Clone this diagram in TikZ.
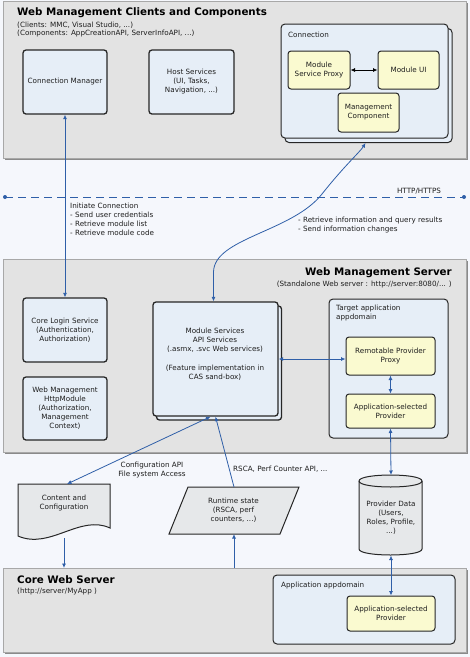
\documentclass[tikz,border=0pt]{standalone}
\usepackage{fontspec}
\setmainfont{DejaVu Sans}
\usetikzlibrary{arrows.meta,calc}
\definecolor{bgc}{HTML}{F5F7FC}
\definecolor{panelc}{HTML}{E3E3E3}
\definecolor{panelb}{HTML}{A8A8A8}
\definecolor{shadc}{HTML}{8A8A8A}
\definecolor{boxc}{HTML}{E6EEF7}
\definecolor{yelc}{HTML}{FAFAD0}
\definecolor{shapec}{HTML}{E6E8EA}
\definecolor{arrc}{HTML}{2F5FA8}
\definecolor{txtc}{HTML}{1E1E1E}
\begin{document}
\begin{tikzpicture}[x=1pt,y=-1pt,
  every node/.style={font=\fontsize{7.2}{9}\selectfont, text=txtc},
  panel/.style={fill=panelc, draw=panelb, line width=0.8pt, anchor=north west, inner sep=0pt},
  pshadow/.style={fill=shadc, draw=none, anchor=north west, inner sep=0pt},
  bbox/.style={draw=black!85, line width=1.3pt, fill=boxc, rounded corners=3pt, align=center, inner sep=1pt},
  ybox/.style={draw=black!85, line width=1pt, fill=yelc, rounded corners=3pt, align=center, inner sep=1pt},
  dom/.style={draw=black!85, line width=1pt, fill=boxc, rounded corners=4pt, inner sep=0pt},
  shp/.style={draw=black!85, line width=1pt, fill=shapec},
  conn/.style={draw=arrc, line width=0.8pt},
  tip/.style={-{Latex[length=4.5pt,width=4pt]}},
  tips/.style={{Latex[length=4.5pt,width=4pt]}-{Latex[length=4.5pt,width=4pt]}},
  ttl/.style={font=\fontsize{10.3}{12}\selectfont\bfseries, text=black, anchor=west, inner sep=0pt},
  sub/.style={anchor=west, inner sep=0pt},
  txt/.style={align=center, inner sep=0pt},
]
\useasboundingbox (0,0) rectangle (470,657);
\fill[bgc] (0,0) rectangle (470,657);

% ---------- panels ----------
\node[pshadow, minimum width=463pt, minimum height=157pt] at (4.5,2.5) {};
\node[panel, minimum width=463pt, minimum height=157pt] (p1) at (3,1) {};
\node[pshadow, minimum width=463pt, minimum height=193pt] at (4.5,260.5) {};
\node[panel, minimum width=463pt, minimum height=193pt] (p2) at (3,259) {};
\node[pshadow, minimum width=463pt, minimum height=84pt] at (4.5,569.5) {};
\node[panel, minimum width=463pt, minimum height=84pt] (p3) at (3,568) {};

% ---------- top panel ----------
\node[ttl] (t1) at (17,13) {Web Management Clients and Components};
\node[sub] (s1a) at (17,25) {(Clients: MMC, Visual Studio, ...)};
\node[sub] (s1b) at (17,33.5) {(Components: AppCreationAPI, ServerInfoAPI, ...)};

\node[bbox, minimum width=84pt, minimum height=64pt] (cm) at (65,82) {Connection Manager};
\node[bbox, minimum width=85pt, minimum height=64pt] (hs) at (191.5,82) {Host Services\\(UI, Tasks,\\Navigation, ...)};

\node[dom, minimum width=167pt, minimum height=114pt] (cbk) at (368.5,85.5) {};
\node[dom, minimum width=167pt, minimum height=114pt] (cx) at (364.5,81) {};
\node[sub] (cxl) at (288,35) {Connection};
\node[ybox, minimum width=62pt, minimum height=38pt] (msp) at (319,70) {Module\\Service Proxy};
\node[ybox, minimum width=61pt, minimum height=38pt] (mui) at (408.5,70) {Module UI};
\node[ybox, minimum width=61pt, minimum height=39pt] (mc) at (368.5,112.5) {Management\\Component};

% ---------- HTTP line ----------
\coordinate (dl) at (5,197);
\coordinate (dr) at (464,197);
\draw[conn, dash pattern=on 8pt off 5pt] (dl) -- (dr);
\fill[arrc] (dl) circle[radius=2pt];
\fill[arrc] (dr) circle[radius=2pt];
\node (http) at (419,191.5) {HTTP/HTTPS};
\node[anchor=north west, align=left, inner sep=0pt] (ic) at (70,202.5) {Initiate Connection\\- Send user credentials\\- Retrieve module list\\- Retrieve module code};
\node[anchor=north west, align=left, inner sep=0pt] (ri) at (298,216.5) {- Retrieve information and query results\\- Send information changes};

% ---------- middle panel ----------
\node[ttl, anchor=east] (t2) at (452,273) {Web Management Server};
\node[sub, anchor=east] (s2) at (452,285) {(Standalone Web server : http://server:8080/... )};

\node[bbox, minimum width=84pt, minimum height=64pt] (cls) at (65,330) {Core Login Service\\(Authentication,\\Authorization)};
\node[bbox, minimum width=84pt, minimum height=63pt] (hm) at (65,408.5) {Web Management\\HttpModule\\(Authorization,\\Management\\Context)};

\node[bbox, minimum width=125pt, minimum height=114pt] (msb) at (219,363) {};
\node[bbox, minimum width=125pt, minimum height=114pt] (ms) at (215.5,359) {};
\node[txt] (mstxt) at (215,354) {Module Services\\API Services\\(.asmx, .svc Web services)\\[10pt](Feature implementation in\\CAS sand-box)};

\node[dom, minimum width=119pt, minimum height=139pt] (td) at (388.5,368.5) {};
\node[anchor=north west, align=left, inner sep=0pt] (tdl) at (336,305) {Target application\\appdomain};
\node[ybox, minimum width=89pt, minimum height=38pt] (rpp) at (390.5,356) {Remotable Provider\\Proxy};
\node[ybox, minimum width=89pt, minimum height=34pt] (asp) at (390.5,411) {Application-selected\\Provider};

% ---------- storage shapes ----------
\draw[shp] (18,484) -- (110,484) -- (110,528) .. controls (80,514) and (50,550) .. (18,536) -- cycle;
\node[txt] (cc) at (64,503.5) {Content and\\Configuration};
\coordinate (cctop) at (67,484);
\coordinate (ccbot) at (64,538);

\draw[shp] (188,487) -- (299,487) -- (280,534) -- (169,534) -- cycle;
\node[txt] (rt) at (233.5,510) {Runtime state\\(RSCA, perf\\counters, ...)};
\coordinate (rttop) at (234,487);
\coordinate (rtbot) at (234,534);

\draw[shp] (359,481) .. controls (359,473) and (422,473) .. (422,481) -- (422,549)
  .. controls (422,557) and (359,557) .. (359,549) -- cycle;
\draw[black!85, line width=1pt] (359,481) .. controls (359,489) and (422,489) .. (422,481);
\node[txt] (pd) at (391,518) {Provider Data\\(Users,\\Roles, Profile,\\...)};
\coordinate (pdtop) at (391,475);
\coordinate (pdbot) at (391,555.5);

\node[anchor=center] (cfl) at (152,470.5) [align=center] {Configuration API\\File system Access};
\node[sub] (rsl) at (233,469) {RSCA, Perf Counter API, ...};

% ---------- bottom panel ----------
\node[ttl] (t3) at (17,580) {Core Web Server};
\node[sub] (s3) at (17,592) {(http://server/MyApp )};
\node[dom, minimum width=182pt, minimum height=69pt] (ad) at (364,609.5) {};
\node[anchor=west, inner sep=0pt] (adl) at (281,586) {Application appdomain};
\node[ybox, minimum width=88pt, minimum height=35pt] (asp2) at (391,613.5) {Application-selected\\Provider};

% ---------- connectors ----------
\draw[conn,tips] (cm.south) -- (cls.north);
\draw[conn,tips] ($(ms.north)+(-2,0)$) -- (213.5,272)
  .. controls (214,238) and (292,232) .. (322,194)
  .. controls (345,165) and (360,152) .. ($(cbk.south)+(-3,0)$);
\draw[black, line width=0.8pt, tips] (msp.east) -- (mui.west);
\draw[conn,tips] (ms.east) -- (ms.east -| rpp.west);
\draw[conn,tips] (rpp.south) -- (asp.north);
\draw[conn,tips] (asp.south) -- (pdtop);
\draw[conn,tips] (pdbot) -- (asp2.north);
\draw[conn,tips] ($(ms.south)+(-5,0)$) -- (cctop);
\draw[conn,tip] (rttop) -- (ms.south);
\draw[conn,tip] (ccbot) -- (ccbot |- p3.north);
\draw[conn,tip] (rtbot |- p3.north) -- (rtbot);
\end{tikzpicture}
\end{document}
